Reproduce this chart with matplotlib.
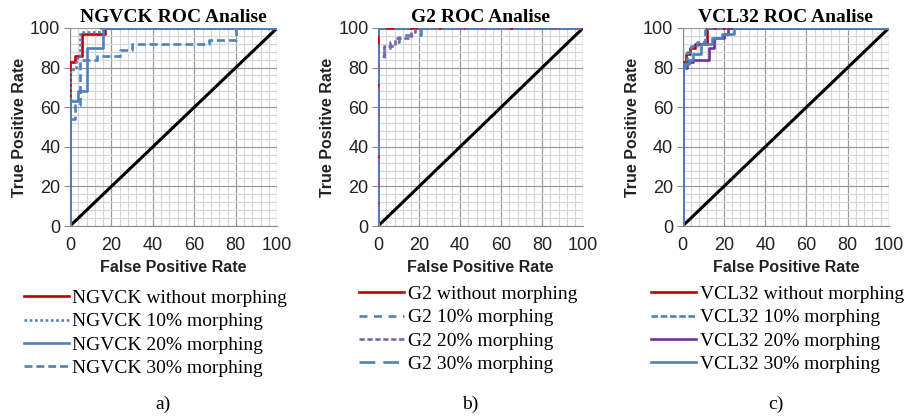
import matplotlib

matplotlib.use("Agg")
import matplotlib.pyplot as plt

RED = "#C00000"
BLUE = "#4F81BD"
PURPLE = "#7030A0"

# --- NGVCK
ngvck_labels = ["NGVCK without morphing", "NGVCK 10% morphing", "NGVCK 20% morphing", "NGVCK 30% morphing"]
ngvck_fpr = [
    [0, 0, 2.5, 2.5, 6, 6, 17, 17, 100],
    [0, 0, 1.5, 1.5, 3, 3, 5, 5, 14, 14, 100],
    [0, 0, 4, 4, 8, 8, 16, 16, 100],
    [0, 0, 2.5, 2.5, 5, 5, 13, 13, 24, 24, 30, 30, 67, 67, 80, 80, 100],
]
ngvck_tpr = [
    [0, 83, 83, 86, 86, 97, 97, 100, 100],
    [0, 78, 78, 80, 80, 85, 85, 98, 98, 100, 100],
    [0, 63, 63, 68, 68, 90, 90, 100, 100],
    [0, 54, 54, 61, 61, 84, 84, 86, 86, 89, 89, 92, 92, 94, 94, 100, 100],
]

# --- G2
g2_labels = ["G2 without morphing", "G2 10% morphing", "G2 20% morphing", "G2 30% morphing"]
g2_fpr = [
    [0, 0, 100],
    [0, 0, 3, 3, 6, 6, 10, 10, 21, 21, 100],
    [0, 0, 3, 3, 8, 8, 16, 16, 18, 18, 100],
    [0, 0, 100],
]
g2_tpr = [
    [0, 100, 100],
    [0, 85, 85, 90, 90, 93, 93, 96.5, 96.5, 100, 100],
    [0, 86, 86, 91, 91, 95, 95, 98, 98, 100, 100],
    [0, 100, 100],
]

# --- VCL32
vcl_labels = ["VCL32 without morphing", "VCL32 10% morphing", "VCL32 20% morphing", "VCL32 30% morphing"]
vcl_fpr = [
    [0, 0, 1.5, 1.5, 3.5, 3.5, 6, 6, 12, 12, 100],
    [0, 0, 2, 2, 4, 4, 7, 7, 11, 11, 100],
    [0, 0, 2, 2, 5, 5, 13, 13, 15, 15, 20, 20, 22, 22, 100],
    [0, 0, 1, 1, 3, 3, 5, 5, 9, 9, 14, 14, 19, 19, 25, 25, 100],
]
vcl_tpr = [
    [0, 83, 83, 87, 87, 90, 90, 92, 92, 100, 100],
    [0, 83, 83, 88, 88, 91, 91, 93, 93, 100, 100],
    [0, 80, 80, 83, 83, 84, 84, 90, 90, 95, 95, 97, 97, 100, 100],
    [0, 80, 80, 82, 82, 84, 84, 87, 87, 92, 92, 95, 95, 97, 97, 100, 100],
]

panels = [
    ("NGVCK ROC Analise", ngvck_labels, ngvck_fpr, ngvck_tpr,
     [(RED, "-"), (BLUE, (0, (1, 1))), (BLUE, "-"), (BLUE, (0, (3, 1.5)))],
     [0.077, 0.458, 0.228, 0.475], (-0.26, -0.28), "a)"),
    ("G2 ROC Analise", g2_labels, g2_fpr, g2_tpr,
     [(RED, "-"), (BLUE, (0, (3, 2.5))), ("#8064A2", (0, (2, 1))), (BLUE, (0, (6, 3)))],
     [0.416, 0.458, 0.2255, 0.475], (-0.13, -0.26), "b)"),
    ("VCL32 ROC Analise", vcl_labels, vcl_fpr, vcl_tpr,
     [(RED, "-"), (BLUE, (0, (2.5, 1))), (PURPLE, "-"), (BLUE, "-")],
     [0.751, 0.458, 0.227, 0.475], (-0.19, -0.26), "c)"),
]

fig = plt.figure(figsize=(9.09, 4.17), dpi=100)

for title, labels, fprs, tprs, styles, rect, leg_pos, tag in panels:
    ax = fig.add_axes(rect)
    ax.set_xlim(0, 100)
    ax.set_ylim(0, 100)
    ax.set_xticks(range(0, 101, 20))
    ax.set_yticks(range(0, 101, 20))
    ax.set_xticks(range(0, 101, 4), minor=True)
    ax.set_yticks(range(0, 101, 4), minor=True)
    ax.grid(which="minor", color="#D6D6D6", linewidth=0.8)
    ax.grid(which="major", color="#9A9A9A", linewidth=0.9)
    ax.set_axisbelow(True)
    for side in ("top", "right"):
        ax.spines[side].set_visible(False)
    for side in ("left", "bottom"):
        ax.spines[side].set_color("#8C8C8C")
    ax.tick_params(which="minor", length=0)
    ax.tick_params(axis="x", which="major", length=0, pad=8, labelsize=13, colors="#222222")
    ax.tick_params(axis="y", which="major", length=4, pad=3, labelsize=13, colors="#222222",
                   color="#8C8C8C")
    for lab in ax.get_xticklabels() + ax.get_yticklabels():
        lab.set_fontfamily("Liberation Sans")

    ax.plot([0, 100], [0, 100], color="black", linewidth=2.2, zorder=2)
    handles = []
    for fpr, tpr, (color, ls), label in zip(fprs, tprs, styles, labels):
        (ln,) = ax.plot(fpr, tpr, color=color, linestyle=ls, linewidth=1.9, label=label, zorder=3)
        handles.append(ln)

    ax.set_title(title, fontsize=14, fontweight="bold", family="Liberation Serif", pad=4)
    ax.set_xlabel("False Positive Rate", fontsize=11.5, fontweight="bold", family="Liberation Sans",
                  labelpad=4, color="#222222")
    ax.set_ylabel("True Positive Rate", fontsize=11.5, fontweight="bold", family="Liberation Sans",
                  labelpad=2, color="#222222")

    ax.legend(handles=handles, loc="upper left", bbox_to_anchor=leg_pos, frameon=False,
              prop={"family": "Liberation Serif", "size": 14}, handlelength=2.3,
              handletextpad=0.2, labelspacing=0.3, borderaxespad=0)

    ax.text(0.45, -0.9, tag, transform=ax.transAxes, ha="center", va="center",
            fontsize=14, family="Liberation Serif")

fig.savefig("out.png", dpi=100)
